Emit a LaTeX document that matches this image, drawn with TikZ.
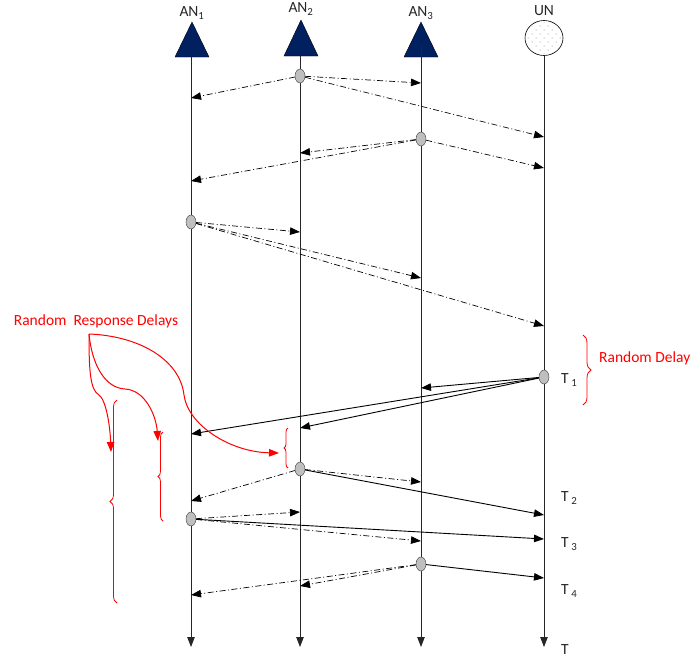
\documentclass[tikz,border=0pt]{standalone}
\usepackage{fontspec}
\setmainfont{Carlito}
\usetikzlibrary{arrows.meta,shapes.geometric,decorations.pathreplacing}
\definecolor{anblue}{RGB}{0,32,96}
\tikzset{
    %Define standard arrow tip
    >={Triangle[length=10pt,width=7.5pt]},
    %Define style for the time axes
    axis/.style={->, line width=0.8pt, black!85},
    %Define style for the access node antennas
    antenna/.style={fill=anblue, draw=black, line width=0.4pt},
    %Define style for the transmission points
    tx/.style={
           ellipse,
           draw=black!80,
           fill=black!25,
           minimum width=10pt,
           minimum height=14pt,
           inner sep=0pt},
    % Define arrow styles
    ctrl/.style={->, line width=0.7pt, dash pattern=on 6pt off 2.5pt on 1pt off 2.5pt},
    data/.style={->, line width=0.9pt},
    delay/.style={->, red, line width=1pt},
    rbrace/.style={red, line width=0.8pt, decorate, decoration={brace, amplitude=#1}},
    lbl/.style={font=\fontsize{15.5}{17}\selectfont, text=black!85, inner sep=1pt},
}

\begin{document}
\begin{tikzpicture}[x=1pt, y=-1pt]
		\useasboundingbox (0,0) rectangle (691,659);
		% antennas and user node
		\filldraw[antenna] (175,57) -- (192,22) -- (209,57) -- cycle;
		\filldraw[antenna] (284,56) -- (301,20) -- (318,56) -- cycle;
		\filldraw[antenna] (404,57) -- (421,22) -- (438,57) -- cycle;
		\node[lbl] (an1) at (192,13) {AN\textsubscript{1}};
		\node[lbl] (an2) at (301,9) {AN\textsubscript{2}};
		\node[lbl] (an3) at (421,13) {AN\textsubscript{3}};
		\node[lbl] (un) at (544,11) {UN};
		\node[ellipse, draw=black, line width=0.6pt, minimum width=38pt, minimum height=35pt, inner sep=0pt] (unode) at (544,38) {};
		\begin{scope}
			\clip (544,38) ellipse [x radius=17pt, y radius=16pt];
			\foreach \dx in {-24,-16,...,24}
				\foreach \dy in {-24,-16,...,24}
					\fill[black!55] (544+\dx,38+\dy) circle[radius=0.5pt] (548+\dx,42+\dy) circle[radius=0.5pt];
		\end{scope}

		% time axes
		\coordinate (a1top) at (191,57);  \coordinate (a1bot) at (191,647);
		\coordinate (a2top) at (300,56);  \coordinate (a2bot) at (300,647);
		\coordinate (a3top) at (421,46);  \coordinate (a3bot) at (421,647);
		\coordinate (untop) at (unode.south); \coordinate (unbot) at (544,647);
		\draw[axis] (a1top) -- (a1bot);
		\draw[axis] (a2top) -- (a2bot);
		\draw[axis] (a3top) -- (a3bot);
		\draw[axis] (untop) -- (unbot);

		% time labels
		\node[lbl, anchor=west] (t1) at (560,380) {T\,\textsubscript{1}};
		\node[lbl, anchor=west] (t2) at (560,498) {T\,\textsubscript{2}};
		\node[lbl, anchor=west] (t3) at (560,544) {T\,\textsubscript{3}};
		\node[lbl, anchor=west] (t4) at (560,591) {T\,\textsubscript{4}};
		\node[lbl, anchor=west] (t) at (560,650) {T};

		% first round of beacons
		\node[tx] (b2) at (300,76) {};
		\coordinate (b2a) at (191,98);  \coordinate (b2b) at (421,83);  \coordinate (b2c) at (544,137);
		\draw[ctrl] (b2) -- (b2a);
		\draw[ctrl] (b2) -- (b2b);
		\draw[ctrl] (b2) -- (b2c);
		\node[tx] (b3) at (421,139) {};
		\coordinate (b3a) at (300,153);  \coordinate (b3b) at (191,181);  \coordinate (b3c) at (544,168);
		\draw[ctrl] (b3) -- (b3a);
		\draw[ctrl] (b3) -- (b3b);
		\draw[ctrl] (b3) -- (b3c);
		\node[tx] (b1) at (191,222) {};
		\coordinate (b1a) at (300,232);  \coordinate (b1b) at (421,278);  \coordinate (b1c) at (544,326);
		\draw[ctrl] (b1) -- (b1a);
		\draw[ctrl] (b1) -- (b1b);
		\draw[ctrl] (b1) -- (b1c);

		% user request
		\node[tx] (req) at (544,377) {};
		\coordinate (req3) at (421,388);  \coordinate (req2) at (300,428);  \coordinate (req1) at (191,434);
		\draw[data] (req) -- (req3);
		\draw[data] (req) -- (req2);
		\draw[data] (req) -- (req1);

		% responses
		\node[tx] (r2) at (300,469) {};
		\coordinate (r2a) at (421,482);  \coordinate (r2b) at (191,501);  \coordinate (r2c) at (544,515);
		\draw[ctrl] (r2) -- (r2a);
		\draw[ctrl] (r2) -- (r2b);
		\draw[data] (r2) -- (r2c);
		\node[tx] (r1) at (191,519) {};
		\coordinate (r1a) at (300,512);  \coordinate (r1b) at (421,541);  \coordinate (r1c) at (544,539);
		\draw[ctrl] (r1) -- (r1a);
		\draw[ctrl] (r1) -- (r1b);
		\draw[data] (r1) -- (r1c);
		\node[tx] (r3) at (421,564) {};
		\coordinate (r3a) at (300,586);  \coordinate (r3b) at (191,595);  \coordinate (r3c) at (544,578);
		\draw[ctrl] (r3) -- (r3a);
		\draw[ctrl] (r3) -- (r3b);
		\draw[data] (r3) -- (r3c);

		% delays
		\node[lbl, text=red] (rrd) at (96,321) {Random\ \ Response Delays};
		\node[lbl, text=red, anchor=west] (rd) at (598,358) {Random Delay};
		\draw[rbrace=8pt] (583,335) -- (583,405);
		\draw[rbrace=7pt] (117,603) -- (117,400);
		\draw[rbrace=5pt] (163,521) -- (163,432);
		\draw[rbrace=4pt] (288,468) -- (288,428);
		\coordinate (fork) at (89,334);
		\coordinate (d1) at (111,452);  \coordinate (d2) at (158,441);  \coordinate (d3) at (279,453);
		\draw[delay] (fork) .. controls (89,370) and (90,390) .. (99,395) .. controls (106,400) and (110,425) .. (d1);
		\draw[delay] (fork) .. controls (92,365) and (105,388) .. (125,389) .. controls (145,390) and (156,415) .. (d2);
		\draw[delay] (fork) .. controls (140,336) and (180,360) .. (184,395) .. controls (188,425) and (230,452) .. (d3);
	\end{tikzpicture}
\end{document}
